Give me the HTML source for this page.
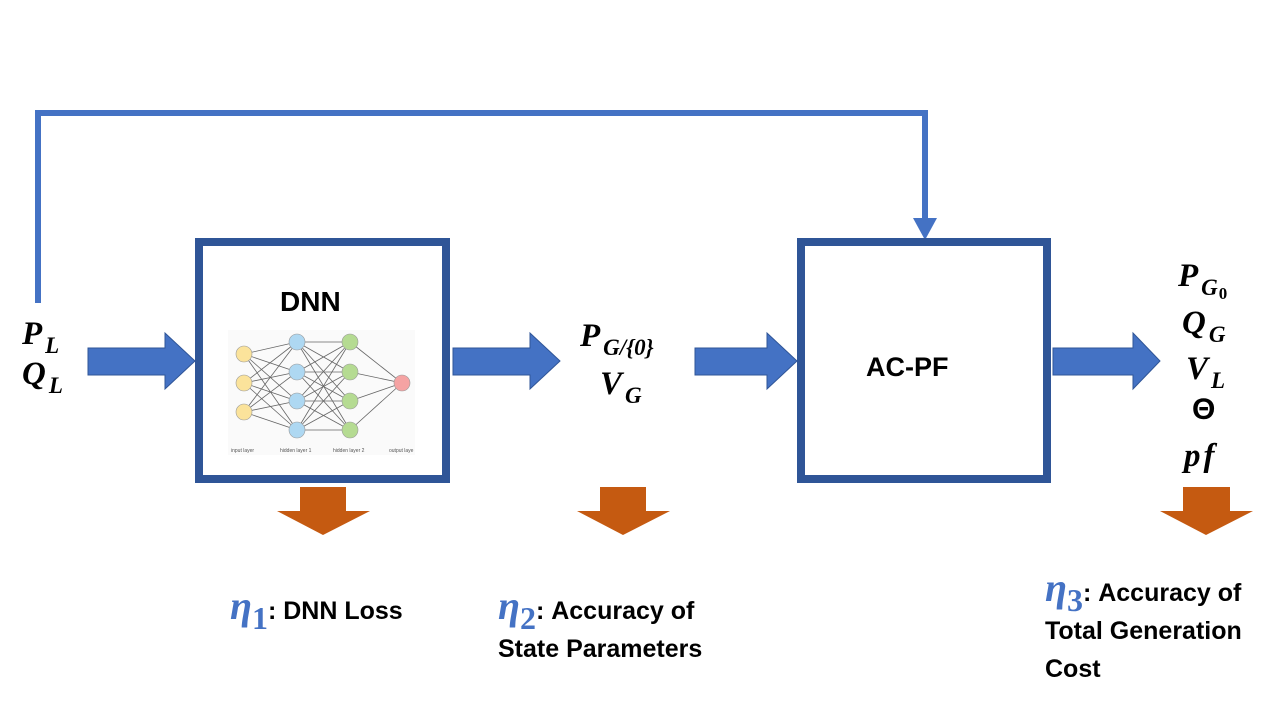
<!DOCTYPE html>
<html><head><style>
body{margin:0;width:1280px;height:720px;background:#fff;position:relative;overflow:hidden;font-family:"Liberation Sans",sans-serif}
.m{position:absolute;font-family:"Liberation Serif",serif;font-weight:bold;font-style:italic;font-size:33px;color:#000;line-height:1}
.m sub{font-size:23px;vertical-align:-9px;margin-left:3px}
.t{position:absolute;font-weight:bold;font-size:25px;color:#000;line-height:38px;white-space:nowrap}
.eta{font-family:"Liberation Serif",serif;font-style:italic;font-weight:bold;color:#4472C4;font-size:40px;line-height:0}
.eta sub{font-size:32px;font-style:normal;vertical-align:-10px;line-height:0}
</style></head><body>
<svg width="1280" height="720" style="position:absolute;left:0;top:0">
<polyline points="38,303 38,113 925,113 925,222" fill="none" stroke="#4472C4" stroke-width="6"/>
<polygon points="913,218 937,218 925,240" fill="#4472C4"/>
<rect x="199" y="242" width="247" height="237" fill="none" stroke="#2F5597" stroke-width="8"/>
<rect x="801" y="242" width="246" height="237" fill="none" stroke="#2F5597" stroke-width="8"/>
<g fill="#4472C4" stroke="#2F5597" stroke-width="1">
<polygon points="88,348 165,348 165,333 195,361 165,389 165,375 88,375"/>
<polygon points="453,348 530,348 530,333 560,361 530,389 530,375 453,375"/>
<polygon points="695,348 767,348 767,333 797,361 767,389 767,375 695,375"/>
<polygon points="1053,348 1133,348 1133,333 1160,361 1133,389 1133,375 1053,375"/>
</g>
<g fill="#C55A11">
<polygon points="300,487 346,487 346,511 370,511 323,535 277,511 300,511"/>
<polygon points="600,487 646,487 646,511 670,511 623,535 577,511 600,511"/>
<polygon points="1183,487 1230,487 1230,511 1253,511 1206,535 1160,511 1183,511"/>
</g>
<rect x="228" y="330" width="187" height="125" fill="#fafafa"/>
<g stroke="#666" stroke-width="0.8">
<line x1="244" y1="354" x2="297" y2="342"/><line x1="244" y1="354" x2="297" y2="372"/><line x1="244" y1="354" x2="297" y2="401"/><line x1="244" y1="354" x2="297" y2="430"/>
<line x1="244" y1="383" x2="297" y2="342"/><line x1="244" y1="383" x2="297" y2="372"/><line x1="244" y1="383" x2="297" y2="401"/><line x1="244" y1="383" x2="297" y2="430"/>
<line x1="244" y1="412" x2="297" y2="342"/><line x1="244" y1="412" x2="297" y2="372"/><line x1="244" y1="412" x2="297" y2="401"/><line x1="244" y1="412" x2="297" y2="430"/>
<line x1="297" y1="342" x2="350" y2="342"/><line x1="297" y1="342" x2="350" y2="372"/><line x1="297" y1="342" x2="350" y2="401"/><line x1="297" y1="342" x2="350" y2="430"/>
<line x1="297" y1="372" x2="350" y2="342"/><line x1="297" y1="372" x2="350" y2="372"/><line x1="297" y1="372" x2="350" y2="401"/><line x1="297" y1="372" x2="350" y2="430"/>
<line x1="297" y1="401" x2="350" y2="342"/><line x1="297" y1="401" x2="350" y2="372"/><line x1="297" y1="401" x2="350" y2="401"/><line x1="297" y1="401" x2="350" y2="430"/>
<line x1="297" y1="430" x2="350" y2="342"/><line x1="297" y1="430" x2="350" y2="372"/><line x1="297" y1="430" x2="350" y2="401"/><line x1="297" y1="430" x2="350" y2="430"/>
<line x1="350" y1="342" x2="402" y2="383"/><line x1="350" y1="372" x2="402" y2="383"/><line x1="350" y1="401" x2="402" y2="383"/><line x1="350" y1="430" x2="402" y2="383"/>
</g>
<g stroke="#999" stroke-width="0.6">
<circle cx="244" cy="354" r="8" fill="#FBE39B"/><circle cx="244" cy="383" r="8" fill="#FBE39B"/><circle cx="244" cy="412" r="8" fill="#FBE39B"/>
<circle cx="297" cy="342" r="8" fill="#AED8F2"/><circle cx="297" cy="372" r="8" fill="#AED8F2"/><circle cx="297" cy="401" r="8" fill="#AED8F2"/><circle cx="297" cy="430" r="8" fill="#AED8F2"/>
<circle cx="350" cy="342" r="8" fill="#B5DB92"/><circle cx="350" cy="372" r="8" fill="#B5DB92"/><circle cx="350" cy="401" r="8" fill="#B5DB92"/><circle cx="350" cy="430" r="8" fill="#B5DB92"/>
<circle cx="402" cy="383" r="8" fill="#F5A3A3"/>
</g>
<g font-family="Liberation Sans" font-size="5" fill="#555">
<text x="231" y="452">input layer</text><text x="280" y="452">hidden layer 1</text><text x="333" y="452">hidden layer 2</text><text x="389" y="452">output laye</text>
</g>
</svg>
<div class="t" style="left:280px;top:283px;font-size:28px">DNN</div>
<div class="t" style="left:866px;top:348px;font-size:27px">AC-PF</div>
<div class="m" style="left:22px;top:318px">P<sub>L</sub></div>
<div class="m" style="left:22px;top:358px">Q<sub>L</sub></div>
<div class="m" style="left:580px;top:320px">P<sub>G/{0}</sub></div>
<div class="m" style="left:600px;top:368px">V<sub>G</sub></div>
<div class="m" style="left:1178px;top:260px">P<sub>G<sub style="font-size:17px;vertical-align:-4px;font-style:normal;margin-left:1px">0</sub></sub></div>
<div class="m" style="left:1182px;top:307px">Q<sub>G</sub></div>
<div class="m" style="left:1186px;top:353px">V<sub>L</sub></div>
<div class="m" style="left:1192px;top:395px;font-style:normal;font-family:'Liberation Sans',sans-serif;font-size:30px">Θ</div>
<div class="m" style="left:1184px;top:440px;letter-spacing:3px">pf</div>
<div class="t" style="left:230px;top:592px"><span class="eta">η<sub>1</sub></span>: DNN Loss</div>
<div class="t" style="left:498px;top:592px"><span class="eta">η<sub>2</sub></span>: Accuracy of<br>State Parameters</div>
<div class="t" style="left:1045px;top:574px"><span class="eta">η<sub>3</sub></span>: Accuracy of<br>Total Generation<br>Cost</div>
</body></html>
